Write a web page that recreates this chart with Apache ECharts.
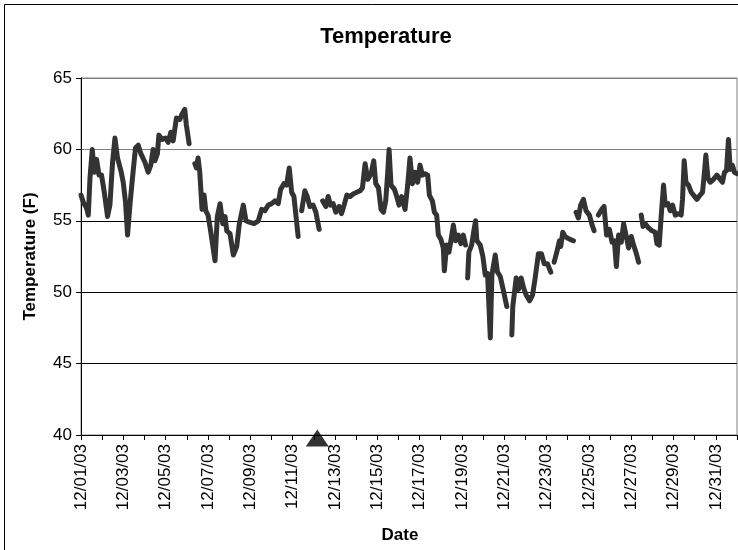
<!DOCTYPE html>
<html lang="en">
<head>
  <meta charset="utf-8">
  <title>Temperature</title>
  <script src="https://cdn.jsdelivr.net/npm/echarts@6/dist/echarts.min.js"></script>
  <style>
    html, body, #chart { width: 100%; height: 100%; margin: 0; padding: 0; overflow: hidden; background: #fff; }
  </style>
</head>
<body>
  <div id="chart"></div>
  <script>
    // hours since 12/01/03 00:00, null temp = gap in the record
    var hours = [
      0, 2.6, 6.3, 8.3, 10.2, 12.8, 15.1, 17.7, 20.4, 23.3, 26.4, 30.1, 32.8, 35.8, 38.5, 41.4, 45.3, 47.9, 50.5, 52.8,
      55.5, 57.3, 59.2, 61.8, 64.9, 67.9, 72.5, 76.2, 79.2, 81.8, 83.8, 86.7, 88.3, 92.0, 95.8, 98.8, 101.9, 104.5, 108.2, 112.1,
      114.7, 117.7, 119.5, 122.6, 126,
      129.1, 130.9, 132.8, 134.7, 137.3, 139.6, 141.5, 144.1, 147.2, 152.0, 154.6, 157.7, 160.8, 163.4, 165.3, 169.0, 172.8, 176.6, 179.6, 184.1,
      187.1, 190.9, 196.2, 201.1, 204.9, 208.6, 212.4, 216.2, 220.0, 223.7, 226.4, 230.2, 233.2, 236.2, 238.9, 241.5, 243.7, 246.3, 248,
      250.2, 253.9, 256.5, 259.6, 263.3, 266.4, 270.1, 272,
      274.0, 277.7, 280.3, 283.0, 286.0, 289.0, 292.8, 295.5, 298.4, 301.5, 305.2, 309.1, 312.8, 316.5, 319.2, 322.2, 325.2, 329.0, 332.0, 334.3,
      337.4, 340.3, 343.0, 345.6, 347.9, 349.4, 351.6, 355.5, 358.1, 360.7, 363.7, 367.5, 370.5, 373.1, 375.9, 378.8, 381.8, 384.5, 387.2, 390.1,
      393.2, 395.1, 398.5, 400.8, 403.4, 405.3, 408.2, 410.9, 412.1, 414.7, 417.3, 419.5, 422.3, 424.9, 427.9, 430.9, 433.6, 436.2, 437.3,
      438.5, 439.9, 443.0, 445.3, 447.5, 449.0, 452.8, 455.8, 458.5, 461.1, 464.2, 466.0, 469.8, 472.4, 475.5, 478.4, 482.9, 485.8,
      488.6, 489.7, 493.6, 496.2, 499.2, 501.9, 504.9, 508.7, 512.1, 515.1, 518.8, 522.2, 525.3, 529.0, 532.8, 534.7,
      536.6, 539.6, 542.6, 544.1, 546.4, 549.1, 551.7, 554.7, 558.5, 560,
      561.5, 564.1, 566.7, 569.8, 572.8, 576.6, 579.2, 581.9, 584.3,
      586.8, 590.5, 593.2, 596.1, 599.2, 602.3, 604.9, 607.2, 609.7, 612.8, 615.4, 618.1, 621.1, 624.1, 626.7, 629.4, 632.4, 634,
      635.4, 637.4, 640.0, 643.7, 647.6, 651.3, 653.2, 655.8, 658.1, 660.7, 662.6, 665.7, 668.3, 670.9, 674.0, 677.7, 680.7, 682.2, 684.1, 686.1,
      689.0, 692.0, 694.7, 698.5, 702.2, 704.9, 706.8, 708.7, 711.0, 713.6, 717.3, 721.2, 724.9, 727.5, 729.8, 732.1, 734.3, 736.3, 738.8, 741.1,
      743.8
    ];
    var temps = [
      56.8, 56.3, 55.9, 55.4, 58.0, 60.0, 58.4, 59.3, 58.2, 58.2, 57.0, 55.3, 56.1, 59.1, 60.8, 59.4, 58.5, 57.7, 56.3, 54.0,
      56.1, 57.3, 58.5, 60.1, 60.3, 59.7, 59.1, 58.4, 58.9, 60.0, 59.2, 59.7, 61.0, 60.7, 60.8, 60.5, 61.2, 60.6, 62.2, 62.1,
      62.5, 62.8, 61.7, 60.4, null,
      59.0, 58.7, 59.4, 58.4, 55.8, 56.8, 55.7, 55.4, 54.2, 52.2, 55.3, 56.2, 54.8, 55.3, 54.3, 54.1, 52.6, 53.2, 54.8, 56.1,
      55.0, 54.9, 54.8, 55.0, 55.8, 55.7, 56.1, 56.2, 56.4, 56.2, 57.2, 57.6, 57.5, 58.7, 57.0, 56.7, 55.4, 53.9, null,
      55.7, 57.1, 56.7, 56.0, 56.1, 55.6, 54.4, null,
      56.4, 56.0, 56.7, 56.1, 56.2, 55.6, 56.0, 55.5, 56.1, 56.8, 56.7, 56.9, 57.0, 57.1, 57.3, 59.0, 57.9, 58.3, 59.2, 57.6,
      57.3, 55.8, 55.6, 56.4, 58.4, 60.0, 57.5, 57.2, 56.7, 56.1, 56.7, 55.8, 57.5, 59.4, 57.6, 58.4, 57.7, 58.9, 58.2, 58.3,
      58.2, 56.8, 56.4, 55.6, 55.4, 54.0, 53.7, 53.1, 51.5, 53.3, 52.8, 53.6, 54.7, 53.6, 54.0, 53.4, 54.0, 53.3, null,
      51.0, 52.8, 53.3, 54.2, 55.0, 53.6, 53.3, 52.5, 51.2, 51.3, 46.8, 51.2, 52.6, 51.4, 51.1, 50.3, 49.0, null,
      47.0, 49.0, 51.0, 50.2, 51.0, 50.3, 49.8, 49.4, 49.8, 51.0, 52.7, 52.7, 52.0, 52.0, 51.4, null,
      52.1, 52.8, 53.6, 53.2, 54.2, 53.9, 53.8, 53.7, 53.6, null,
      55.6, 55.2, 56.1, 56.5, 55.7, 55.4, 54.8, 54.3, null,
      55.4, 55.8, 56.0, 54.0, 54.4, 53.5, 53.6, 51.8, 54.0, 53.5, 54.8, 54.0, 53.1, 53.9, 53.3, 52.8, 52.1, null,
      55.4, 54.6, 54.8, 54.5, 54.3, 54.2, 53.4, 53.3, 55.4, 57.5, 56.1, 56.2, 55.7, 56.1, 55.4, 55.5, 55.4, 56.5, 59.2, 57.7,
      57.5, 57.0, 56.8, 56.5, 56.8, 57.0, 58.2, 59.6, 58.0, 57.7, 57.9, 58.2, 57.9, 57.7, 58.4, 58.5, 60.7, 58.6, 58.9, 58.4,
      58.3
    ];
    var dateLabels = ['12/01/03', '12/03/03', '12/05/03', '12/07/03', '12/09/03', '12/11/03', '12/13/03', '12/15/03',
      '12/17/03', '12/19/03', '12/21/03', '12/23/03', '12/25/03', '12/27/03', '12/29/03', '12/31/03'];
    var markerHour = 268;
    var markerTemp = 40;

    var FONT = 'Liberation Sans, Arial, sans-serif';

    var lineData = hours.map(function (h, i) {
      return [h, temps[i] === null ? '-' : temps[i]];
    });

    var chart = echarts.init(document.getElementById('chart'));
    chart.setOption({
      animation: false,
      backgroundColor: '#fff',
      textStyle: { fontFamily: FONT, color: '#000' },
      graphic: [
        {
          type: 'rect',
          shape: { x: 4.5, y: 4.5, width: 1000, height: 1000 },
          style: { fill: 'none', stroke: '#000', lineWidth: 1 },
          silent: true
        },
        {
          type: 'text',
          x: 386, y: 37,
          style: {
            text: 'Temperature', align: 'center', verticalAlign: 'middle',
            fontSize: 22, fontWeight: 'bold', fontFamily: FONT, fill: '#000'
          }
        }
      ],
      grid: {
        left: 81, right: 1, top: 78, bottom: 115,
        show: true, borderColor: '#808080', borderWidth: 1
      },
      xAxis: {
        type: 'value',
        min: 0, max: 744, interval: 24,
        name: 'Date', nameLocation: 'middle', nameGap: 92,
        nameTextStyle: { fontSize: 17, fontWeight: 'bold', color: '#000', fontFamily: FONT, padding: [0, 18, 0, 0] },
        axisLine: { lineStyle: { color: '#000', width: 1 } },
        axisTick: { length: 5, lineStyle: { color: '#000' } },
        splitLine: { show: false },
        axisLabel: {
          rotate: 90, margin: 9, fontSize: 17, color: '#000', fontFamily: FONT,
          formatter: function (v) {
            var d = Math.round(v / 24);
            return d % 2 === 0 && dateLabels[d / 2] ? dateLabels[d / 2] : '';
          }
        }
      },
      yAxis: {
        type: 'value',
        min: 40, max: 65, interval: 5,
        name: 'Temperature (F)', nameLocation: 'middle', nameGap: 42,
        nameTextStyle: { fontSize: 17, fontWeight: 'bold', color: '#000', fontFamily: FONT },
        axisLine: { show: true, lineStyle: { color: '#000', width: 1 } },
        axisTick: { show: true, length: 5, lineStyle: { color: '#000' } },
        axisLabel: { margin: 9, fontSize: 17, color: '#000', fontFamily: FONT },
        splitLine: { lineStyle: { color: ['#000', '#000', '#000', '#000', '#808080', '#808080'], width: 1 } }
      },
      series: [
        {
          type: 'line',
          data: lineData,
          showSymbol: false,
          symbol: 'none',
          connectNulls: false,
          lineStyle: { color: '#333333', width: 5, join: 'round', cap: 'round' },
          z: 3
        },
        {
          type: 'scatter',
          data: [[markerHour, markerTemp]],
          symbol: 'triangle',
          symbolSize: [23, 17],
          symbolOffset: [0, 3],
          itemStyle: { color: '#000' },
          clip: false,
          z: 10
        }
      ]
    });
  </script>
</body>
</html>
